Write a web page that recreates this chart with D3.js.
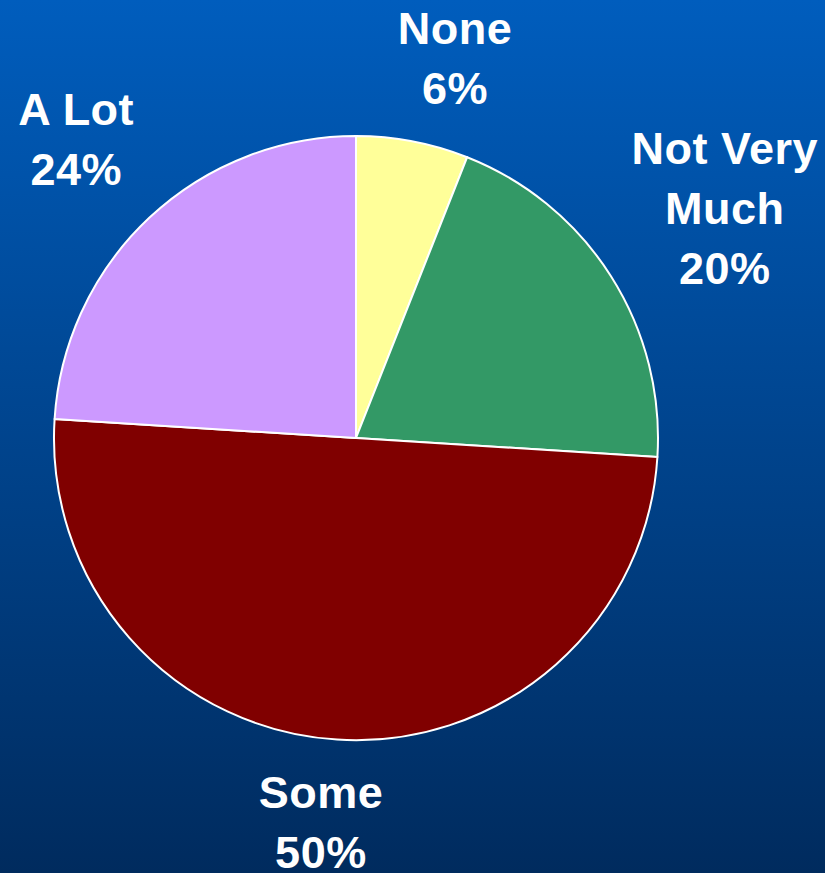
<!DOCTYPE html>
<html>
<head>
<meta charset="utf-8">
<script src="https://cdn.jsdelivr.net/npm/d3@7"></script>
<style>
  html, body { margin: 0; padding: 0; }
  svg { display: block; }
  .lbl { font-family: "Liberation Sans", Arial, sans-serif; font-weight: bold; fill: #ffffff; }
</style>
</head>
<body>
<div class="chart"></div>
<script>
// Data
var categories = ["None", "Not Very Much", "Some", "A Lot"];
var values = [6, 20, 50, 24];
var labelLines = [["None"], ["Not Very", "Much"], ["Some"], ["A Lot"]];
var colors = ["#ffff99", "#339966", "#800000", "#cc99ff"];

// Layout
var svgWidth = 825, svgHeight = 873;
var cx = 356, cy = 438, radius = 302;
var labelRadius = 400;
var lineHeight = 60, fontSize = 45;
// small nudges so labels sit where the original placed them
var labelNudge = {
  "None": [24, 13],
  "Not Very Much": [31, -16],
  "Some": [-10, -15],
  "A Lot": [-6, -8]
};

var svg = d3.select(".chart")
  .append("svg")
  .attr("width", svgWidth)
  .attr("height", svgHeight);

// background gradient
var grad = svg.append("defs").append("linearGradient")
  .attr("id", "bg")
  .attr("x1", 0).attr("y1", 0).attr("x2", 0).attr("y2", 1);
grad.append("stop").attr("offset", "0%").attr("stop-color", "#005dbd");
grad.append("stop").attr("offset", "100%").attr("stop-color", "#002b5e");
svg.append("rect")
  .attr("width", svgWidth)
  .attr("height", svgHeight)
  .attr("fill", "url(#bg)");

var data = categories.map((c, i) => ({ name: c, value: values[i], lines: labelLines[i].concat([values[i] + "%"]), color: colors[i] }));

var pie = d3.pie().sort(null).value(d => d.value);
var arc = d3.arc().innerRadius(0).outerRadius(radius);
var labelArc = d3.arc().innerRadius(labelRadius).outerRadius(labelRadius);

var g = svg.append("g").attr("transform", `translate(${cx}, ${cy})`);
var arcs = pie(data);

g.selectAll("path")
  .data(arcs)
  .enter()
  .append("path")
  .attr("d", arc)
  .attr("fill", d => d.data.color)
  .attr("stroke", "#ffffff")
  .attr("stroke-width", 2)
  .attr("stroke-linejoin", "round");

var labels = g.selectAll(".lbl")
  .data(arcs)
  .enter()
  .append("text")
  .attr("class", "lbl")
  .attr("text-anchor", "middle")
  .style("font-size", fontSize + "px")
  .style("letter-spacing", "0.5px");

labels.each(function(d) {
  var c = labelArc.centroid(d);
  var nudge = labelNudge[d.data.name];
  var x = c[0] + nudge[0];
  var y = c[1] + nudge[1];
  var n = d.data.lines.length;
  var t = d3.select(this);
  d.data.lines.forEach((line, i) => {
    t.append("tspan")
      .attr("x", x)
      .attr("y", y - (n - 1) * lineHeight / 2 + i * lineHeight + fontSize * 0.716 / 2)
      .text(line);
  });
});
</script>
</body>
</html>
